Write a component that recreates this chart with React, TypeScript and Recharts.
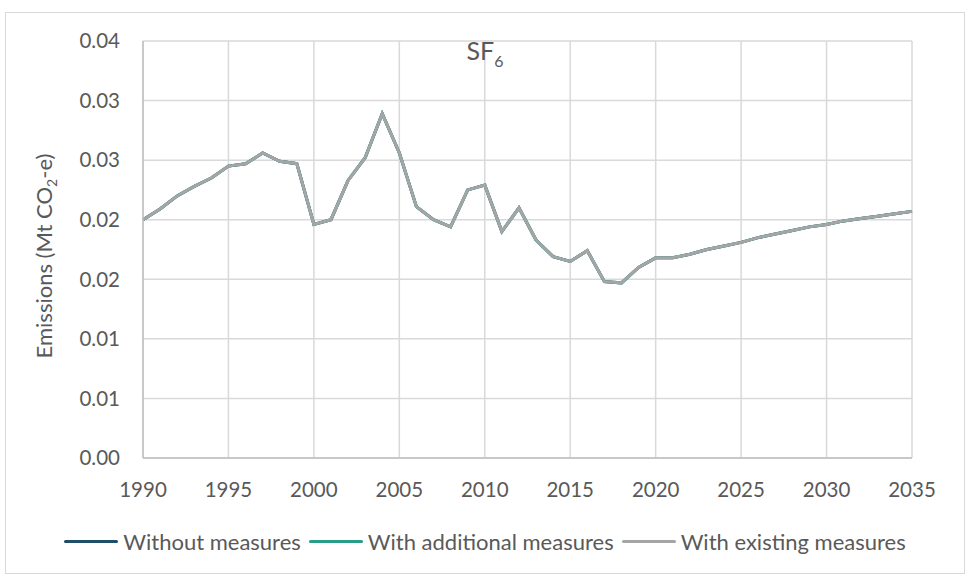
import { LineChart, Line, XAxis, YAxis, CartesianGrid, Legend, Customized } from "recharts";

const years = [
  1990, 1991, 1992, 1993, 1994, 1995, 1996, 1997, 1998, 1999,
  2000, 2001, 2002, 2003, 2004, 2005, 2006, 2007, 2008, 2009,
  2010, 2011, 2012, 2013, 2014, 2015, 2016, 2017, 2018, 2019,
  2020, 2021, 2022, 2023, 2024, 2025, 2026, 2027, 2028, 2029,
  2030, 2031, 2032, 2033, 2034, 2035,
];

// 1990-2020 inventory, shared by all scenarios
const historical = [
  0.0200, 0.0209, 0.0220, 0.0228, 0.0235, 0.0245, 0.0247, 0.0256, 0.0249, 0.0247,
  0.0196, 0.0200, 0.0233, 0.0252, 0.0289, 0.0256, 0.0211, 0.0200, 0.0194, 0.0225,
  0.0229, 0.0190, 0.0210, 0.0183, 0.0169, 0.0165, 0.0174, 0.0148, 0.0147, 0.0160,
  0.0168,
];

// 2021-2035 projections
const withoutProj = [
  0.0168, 0.0171, 0.0175, 0.0178, 0.0181, 0.0185, 0.0188, 0.0191, 0.0194, 0.0196,
  0.0199, 0.0201, 0.0203, 0.0205, 0.0207,
];
const additionalProj = [
  0.0168, 0.0171, 0.0175, 0.0178, 0.0181, 0.0185, 0.0188, 0.0191, 0.0194, 0.0196,
  0.0199, 0.0201, 0.0203, 0.0205, 0.0207,
];
const existingProj = [
  0.0168, 0.0171, 0.0175, 0.0178, 0.0181, 0.0185, 0.0188, 0.0191, 0.0194, 0.0196,
  0.0199, 0.0201, 0.0203, 0.0205, 0.0207,
];

const xTicks = [1990, 1995, 2000, 2005, 2010, 2015, 2020, 2025, 2030, 2035];
const yTicks = [0, 0.005, 0.01, 0.015, 0.02, 0.025, 0.03, 0.035];
const yTickLabels = ["0.00", "0.01", "0.01", "0.02", "0.02", "0.03", "0.03", "0.04"];

const seriesKeys = ["without", "additional", "existing"];
const seriesNames = ["Without measures", "With additional measures", "With existing measures"];
const seriesColors = ["#1f4e6b", "#2a9d8a", "#a5a5a5"];

const withoutMeasures = historical.concat(withoutProj);
const withAdditional = historical.concat(additionalProj);
const withExisting = historical.concat(existingProj);

const data = years.map((year, i) => ({
  year,
  without: withoutMeasures[i],
  additional: withAdditional[i],
  existing: withExisting[i],
}));

const TEXT = "#595959";
const FONT = "Lato, 'Open Sans', sans-serif";

const Title = () => (
  <text x={480} y={48} textAnchor="middle" fill={TEXT} fontSize={25} fontFamily={FONT}>
    SF<tspan fontSize={16} dy={7}>6</tspan>
  </text>
);

const YLabel = () => (
  <text
    transform="translate(47,244) rotate(-90)"
    textAnchor="middle"
    fill={TEXT}
    fontSize={22}
    fontFamily={FONT}
  >
    Emissions (Mt CO<tspan fontSize={14} dy={5}>2</tspan>
    <tspan dy={-5}>-e)</tspan>
  </text>
);

const LegendContent = () => (
  <div style={{ display: "flex", justifyContent: "center", alignItems: "center", gap: 8 }}>
    {seriesNames.map((name, i) => (
      <div key={name} style={{ display: "flex", alignItems: "center" }}>
        <div style={{ width: 54, height: 3, background: seriesColors[i], borderRadius: 2, marginRight: 5 }} />
        <span style={{ color: TEXT, fontSize: 22, fontFamily: FONT }}>{name}</span>
      </div>
    ))}
  </div>
);

export default function App() {
  return (
    <div
      style={{
        position: "absolute",
        left: 5,
        top: 12,
        width: 960,
        height: 562,
        border: "1px solid #d9d9d9",
        boxSizing: "border-box",
        background: "#fff",
        fontFamily: FONT,
      }}
    >
      <LineChart
        width={960}
        height={561}
        data={data}
        margin={{ top: 29, right: 53, bottom: 75, left: 0 }}
        style={{ position: "absolute", left: -1, top: -1 }}
      >
        <CartesianGrid stroke="#d9d9d9" strokeWidth={1.5} />
        <XAxis
          dataKey="year"
          type="number"
          domain={[1990, 2035]}
          ticks={xTicks}
          height={40}
          tickLine={false}
          tickMargin={18}
          axisLine={{ stroke: "#bfbfbf", strokeWidth: 1.5 }}
          tick={{ fill: TEXT, fontSize: 20.5, fontFamily: FONT }}
        />
        <YAxis
          type="number"
          domain={[0, 0.035]}
          ticks={yTicks}
          width={138}
          tickLine={false}
          tickMargin={17}
          axisLine={{ stroke: "#bfbfbf", strokeWidth: 1.5 }}
          tick={{ fill: TEXT, fontSize: 20.5, fontFamily: FONT }}
          tickFormatter={(v: number) => yTickLabels[yTicks.indexOf(v)] ?? ""}
        />
        <Legend
          layout="horizontal"
          verticalAlign="middle"
          align="center"
          content={LegendContent}
          wrapperStyle={{ top: 516, left: 0, width: 960 }}
        />
        {seriesKeys.map((key, i) => (
          <Line
            key={key}
            type="linear"
            dataKey={key}
            name={seriesNames[i]}
            stroke={seriesColors[i]}
            strokeWidth={3}
            dot={false}
            isAnimationActive={false}
          />
        ))}
        <Customized component={Title} />
        <Customized component={YLabel} />
      </LineChart>
    </div>
  );
}
